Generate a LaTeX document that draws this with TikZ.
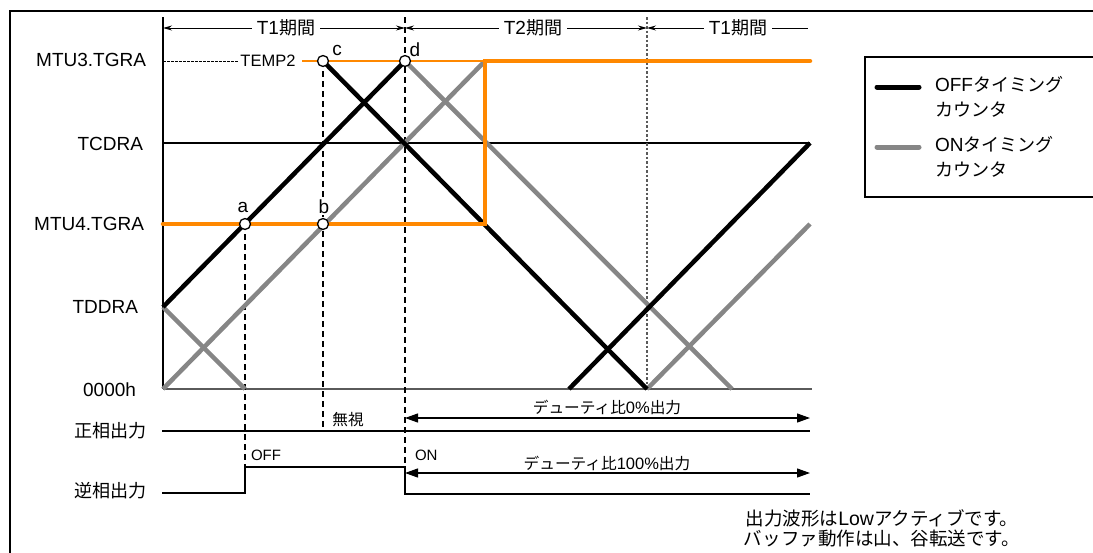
\documentclass[tikz,border=0pt]{standalone}
\usepackage{fontspec}
\setmainfont{Liberation Sans}
\newfontfamily\jp[Scale=0.95]{Noto Sans CJK JP}
\usetikzlibrary{arrows.meta}
\definecolor{corange}{HTML}{FF8800}
\definecolor{cgray}{HTML}{868686}
\definecolor{caxis}{HTML}{5A5A5A}
\tikzset{
  hdrtip/.tip={Stealth[length=9pt,width=5pt]},
  bigtip/.tip={Triangle[length=13pt,width=9pt]}
}
\begin{document}
\begin{tikzpicture}[x=1pt,y=-1pt,
  every node/.style={inner sep=0pt, outer sep=0pt},
  lat/.style={font=\fontsize{19}{22}\selectfont},
  note/.style={font=\fontsize{19.5}{22}\selectfont},
  sm/.style={font=\fontsize{16.5}{19}\selectfont},
  tiny/.style={font=\fontsize{15}{18}\selectfont},
  cntoff/.style={line width=4.5pt, black},
  cnton/.style={line width=4.5pt, cgray},
  orthick/.style={line width=4.5pt, corange},
  orthin/.style={line width=2pt, corange},
  thin/.style={line width=1.1pt, black},
  sig/.style={line width=2pt, black},
  vdash/.style={line width=1.2pt, black, dash pattern=on 6pt off 4pt},
  vdot/.style={line width=1.2pt, caxis, dash pattern=on 2.5pt off 2pt},
  hdr/.style={line width=1pt, black},
  ptc/.style={circle, draw=black, fill=white, line width=1.3pt, minimum size=11pt},
  lgline/.style={line width=5pt, line cap=round},
  hbox/.style={fill=white, inner xsep=5pt, inner ysep=2pt, lat}
]
\useasboundingbox (0,0) rectangle (1093,552);

% outer frame (top and left only visible)
\coordinate (fTR) at (1100,11);
\coordinate (fTL) at (10,11);
\coordinate (fBL) at (10,560);
\draw[line width=1.6pt] (fTR) -- (fTL) -- (fBL);

% key coordinates
\coordinate (ytop) at (163,17);
\coordinate (O) at (163,389);
\coordinate (Oend) at (812,389);
\coordinate (tdd) at (163,307);
\coordinate (tcd) at (163,143);
\coordinate (tcdend) at (810,143);
\coordinate (m4) at (163,224);
\coordinate (m3) at (163,61);
\coordinate (corner1) at (485,224);
\coordinate (corner2) at (485,61);
\coordinate (m3end) at (810,61);
\coordinate (temps) at (238,61);
\coordinate (tempe) at (302,61);

% axes & reference lines
\draw[thin] (ytop) -- (O);
\draw[line width=1.5pt, caxis] (O) -- (Oend);
\draw[thin] (tcd) -- (tcdend);
\draw[line width=1pt, dash pattern=on 2.5pt off 1.5pt] (m3) -- (temps);

% left labels
\node[lat, anchor=east] (lm3) at (146,60) {MTU3.TGRA};
\node[lat, anchor=east] (ltcd) at (143,144) {TCDRA};
\node[lat, anchor=east] (lm4) at (144,223.5) {MTU4.TGRA};
\node[lat, anchor=east] (ltdd) at (138,307) {TDDRA};
\node[lat, anchor=east] (l0) at (136,390) {0000h};
\node[lat, anchor=east] (lpos) at (147,431) {\jp 正相出力};
\node[lat, anchor=east] (lneg) at (147,491) {\jp 逆相出力};
\node[sm] (temp) at (268,61) {TEMP2};

% vertical guide lines
\coordinate (va1) at (245,224);
\coordinate (va2) at (245,467);
\coordinate (vc1) at (323,61);
\coordinate (vc2) at (323,428);
\coordinate (vd1) at (405,17);
\coordinate (vd2) at (405,494);
\coordinate (vt1) at (647,17);
\coordinate (vt2) at (647,389);
\draw[vdash] (va1) -- (va2);
\draw[vdash] (vc1) -- (vc2);
\draw[vdash] (vd1) -- (vd2);
\draw[vdot] (vt1) -- (vt2);

% ON timing counter (gray)
\coordinate (g1s) at (163,389);
\coordinate (g1e) at (485,61);
\coordinate (g2e) at (245,389);
\coordinate (g3s) at (405,61);
\coordinate (g3e) at (732,389);
\coordinate (g4s) at (647,389);
\coordinate (g4e) at (810,224);
\draw[cnton] (g1s) -- (g1e);
\draw[cnton] (tdd) -- (g2e);
\draw[cnton] (g3s) -- (g3e);
\draw[cnton] (g4s) -- (g4e);

% OFF timing counter (black)
\coordinate (b1e) at (405,61);
\coordinate (b2s) at (323,61);
\coordinate (b2e) at (647,389);
\coordinate (b3s) at (569,389);
\coordinate (b3e) at (810,143);
\draw[cntoff] (tdd) -- (b1e);
\draw[cntoff] (b2s) -- (b2e);
\draw[cntoff] (b3s) -- (b3e);

% orange compare registers
\draw[orthin] (tempe) -- (corner2);
\draw[orthick, line cap=round] (m4) -- (corner1) -- (corner2) -- (m3end);

% points
\node[ptc] (a) at (245,224) {};
\node[ptc] (b) at (323,224) {};
\node[ptc] (c) at (323,61) {};
\node[ptc] (d) at (405,61) {};
\node[lat] (la) at (243,207) {a};
\node[lat, fill=white, inner ysep=1pt] (lb) at (324,207) {b};
\node[lat] (lc) at (337,50) {c};
\node[lat] (ld) at (415,50) {d};

% header period arrows
\coordinate (h0) at (163,28);
\coordinate (h1) at (405,28);
\coordinate (h2) at (647,28);
\coordinate (h3) at (808,28);
\draw[hdr, hdrtip-hdrtip] (h0) -- (h1);
\draw[hdr, hdrtip-hdrtip] (h1) -- (h2);
\draw[hdr, hdrtip-] (h2) -- (h3);
\node[hbox] (t1a) at (286,28) {T1{\jp 期間}};
\node[hbox] (t2) at (533,28) {T2{\jp 期間}};
\node[hbox] (t1b) at (738,28) {T1{\jp 期間}};

% output signals
\coordinate (p0) at (162,431);
\coordinate (p1) at (810,431);
\draw[sig] (p0) -- (p1);
\coordinate (n0) at (162,493);
\coordinate (n1) at (245,493);
\coordinate (n2) at (245,467);
\coordinate (n3) at (405,467);
\coordinate (n4) at (405,494);
\coordinate (n5) at (810,494);
\draw[sig, line join=miter] (n0) -- (n1) -- (n2) -- (n3) -- (n4) -- (n5);

% duty arrows
\coordinate (d0a) at (405,418);
\coordinate (d0b) at (810,418);
\coordinate (d1a) at (405,473);
\coordinate (d1b) at (810,473);
\draw[line width=1.2pt, bigtip-bigtip] (d0a) -- (d0b);
\draw[line width=1.2pt, bigtip-bigtip] (d1a) -- (d1b);
\node[sm] (duty0) at (607,407) {{\jp デューティ比}0\%{\jp 出力}};
\node[sm] (duty100) at (607,463) {{\jp デューティ比}100\%{\jp 出力}};
\node[sm] (ign) at (348,420) {\jp 無視};
\node[tiny, anchor=west] (off) at (251,455) {OFF};
\node[tiny, anchor=west] (on) at (415,455) {ON};

% legend
\coordinate (lg1) at (1100,57);
\coordinate (lg2) at (865,57);
\coordinate (lg3) at (865,197);
\coordinate (lg4) at (1100,197);
\draw[line width=1.2pt] (lg1) -- (lg2) -- (lg3) -- (lg4);
\coordinate (lk1) at (877,87);
\coordinate (lk2) at (919,87);
\coordinate (lk3) at (877,147);
\coordinate (lk4) at (919,147);
\draw[lgline, black] (lk1) -- (lk2);
\draw[lgline, cgray] (lk3) -- (lk4);
\node[lat, anchor=west] (lgt1) at (935,85) {OFF{\jp タイミング}};
\node[lat, anchor=west] (lgt2) at (935,110) {\jp カウンタ};
\node[lat, anchor=west] (lgt3) at (935,145) {ON{\jp タイミング}};
\node[lat, anchor=west] (lgt4) at (935,170) {\jp カウンタ};

% notes
\node[note] (note1) at (882,518) {{\jp 出力波形は}Low{\jp アクティブです。}};
\node[note] (note2) at (882,538) {\jp バッファ動作は山、谷転送です。};
\end{tikzpicture}
\end{document}
